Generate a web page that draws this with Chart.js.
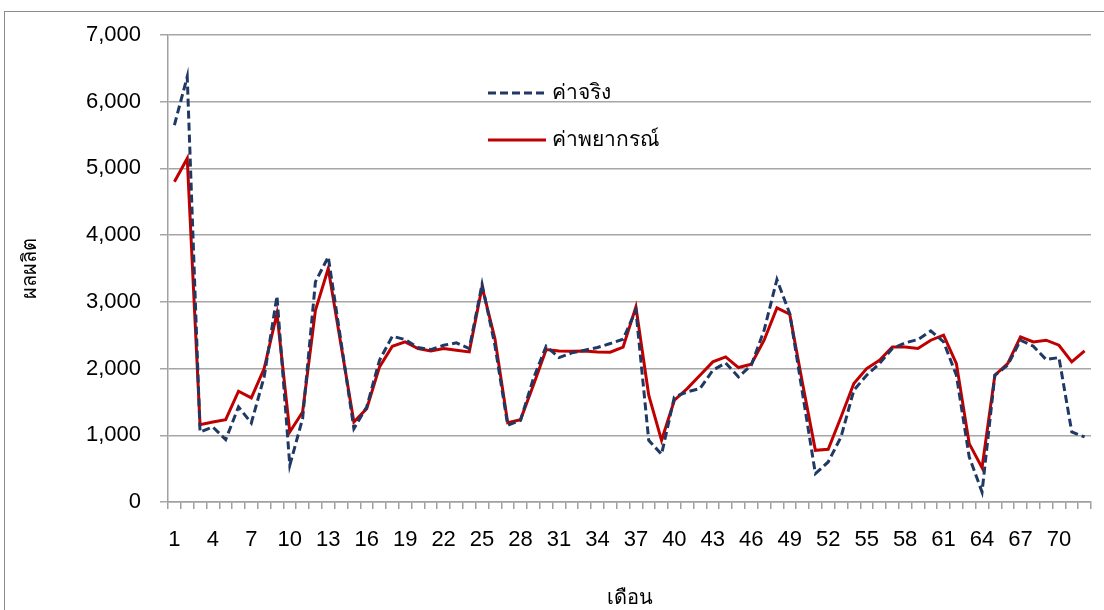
<!DOCTYPE html>
<html>
<head>
<meta charset="utf-8">
<script src="https://cdn.jsdelivr.net/npm/chart.js@4.4.0/dist/chart.umd.min.js"></script>
<style>
  body { margin: 0; background: #fff; }
  #wrap { position: relative; width: 1104px; height: 610px; overflow: hidden; }
  #frame { position: absolute; left: 4px; top: 11px; width: 1200px; height: 700px; border: 1.5px solid #8c8c8c; }
  canvas { position: absolute; left: 0; top: 0; }
</style>
</head>
<body>
<div id="wrap">
  <div id="frame"></div>
  <canvas id="myChart" width="1104" height="610"></canvas>
</div>
<script>
// months 1..72
var months = [];
for (var m = 1; m <= 72; m++) months.push(String(m));

var seriesNames = ['ค่าจริง', 'ค่าพยากรณ์'];

var actual = [5650, 6375, 1050, 1125, 935, 1425, 1185, 1875, 3085, 550,
    1250, 3300, 3675, 2400, 1100, 1425, 2125, 2485, 2435, 2315,
    2285, 2350, 2385, 2300, 3265, 2350, 1150, 1225, 1850, 2335,
    2165, 2235, 2275, 2315, 2375, 2440, 2875, 925, 715, 1575,
    1650, 1700, 1975, 2085, 1875, 2050, 2575, 3335, 2825, 1625,
    425, 600, 975, 1675, 1900, 2075, 2300, 2385, 2435, 2565,
    2400, 1900, 675, 150, 1900, 2050, 2425, 2335, 2135, 2165,
    1050, 975];

var forecast = [4800, 5150, 1160, 1200, 1235, 1660, 1560, 2000, 2825, 1050,
    1350, 2875, 3500, 2350, 1200, 1400, 2025, 2335, 2400, 2300,
    2265, 2300, 2275, 2250, 3225, 2450, 1190, 1235, 1750, 2285,
    2265, 2260, 2265, 2250, 2245, 2320, 2925, 1600, 925, 1525,
    1700, 1900, 2100, 2175, 2015, 2065, 2425, 2910, 2815, 1775,
    775, 790, 1275, 1775, 2000, 2125, 2325, 2325, 2300, 2425,
    2500, 2075, 875, 515, 1900, 2075, 2475, 2400, 2425, 2350,
    2100, 2265];

var yTicks = [0, 1000, 2000, 3000, 4000, 5000, 6000, 7000];

var FONT = "'Liberation Sans', Arial, sans-serif";
var FONT_TH = "'Liberation Sans', Arial, 'DejaVu Sans', sans-serif";
var navy = '#1f3864';
var red = '#c00000';

// legend drawn inside the plot, like the original
var innerLegend = {
    id: 'innerLegend',
    afterDraw: function (chart) {
        var c = chart.ctx;
        var items = [
            { text: seriesNames[0], color: navy, dash: [8, 4], y: 93 },
            { text: seriesNames[1], color: red, dash: [], y: 140 }
        ];
        c.save();
        items.forEach(function (it) {
            c.beginPath();
            c.setLineDash(it.dash);
            c.strokeStyle = it.color;
            c.lineWidth = 3;
            c.moveTo(488, it.y);
            c.lineTo(546, it.y);
            c.stroke();
            c.setLineDash([]);
            c.fillStyle = '#000';
            c.font = '21px ' + FONT_TH;
            c.textBaseline = 'middle';
            c.fillText(it.text, 552, it.y);
        });
        c.restore();
    }
};

var ctx = document.getElementById('myChart').getContext('2d');
var myChart = new Chart(ctx, {
    type: 'line',
    data: {
        labels: months,
        datasets: [{
            label: seriesNames[0],
            data: actual,
            borderColor: navy,
            borderWidth: 3,
            borderDash: [8, 4],
            pointRadius: 0,
            tension: 0,
            fill: false
        }, {
            label: seriesNames[1],
            data: forecast,
            borderColor: red,
            borderWidth: 3,
            pointRadius: 0,
            tension: 0,
            fill: false
        }]
    },
    options: {
        responsive: false,
        maintainAspectRatio: false,
        animation: false,
        layout: { padding: { top: 35, right: 13, left: 0, bottom: 0 } },
        plugins: {
            legend: { display: false },
            tooltip: { enabled: false }
        },
        scales: {
            x: {
                type: 'category',
                offset: true,
                grid: { offset: true, drawOnChartArea: false, drawTicks: true, tickLength: 7, color: '#a0a0a0', lineWidth: 1.5 },
                border: { color: '#a0a0a0', width: 1.5 },
                ticks: {
                    autoSkip: false,
                    maxRotation: 0,
                    minRotation: 0,
                    padding: 18,
                    color: '#000',
                    font: { size: 22, family: FONT },
                    callback: function (v, i) { return i % 3 === 0 ? months[i] : ''; }
                },
                title: { display: true, text: 'เดือน', color: '#000', font: { size: 20, family: FONT_TH }, padding: { top: 10, bottom: 0 } },
                afterFit: function (s) { s.height = 108; }
            },
            y: {
                min: 0,
                max: 7000,
                afterBuildTicks: function (s) { s.ticks = yTicks.map(function (v) { return { value: v }; }); },
                grid: { color: '#a6a6a6', lineWidth: 1.5, tickLength: 8 },
                border: { color: '#a0a0a0', width: 1.5 },
                ticks: {
                    padding: 19,
                    color: '#000',
                    font: { size: 22, family: FONT },
                    callback: function (v) { return v.toLocaleString('en-US'); }
                },
                title: { display: true, text: 'ผลผลิต', color: '#000', font: { size: 20, family: FONT_TH }, padding: { top: 18, bottom: 0 } },
                afterFit: function (s) { s.width = 168; }
            }
        }
    },
    plugins: [innerLegend]
});
</script>
</body>
</html>
